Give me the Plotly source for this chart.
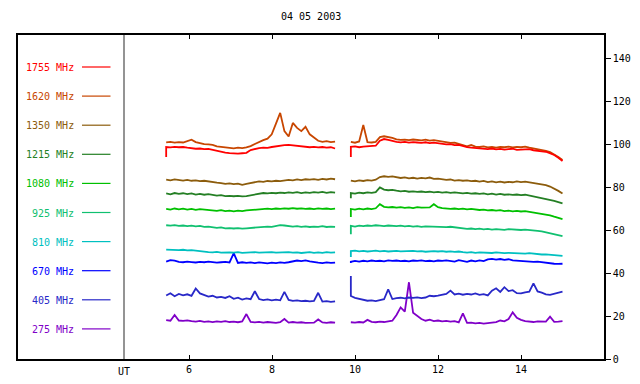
import numpy as np
import plotly.graph_objects as go

# ---------------- data ----------------
freq_labels = ["1755 MHz", "1620 MHz", "1350 MHz", "1215 MHz", "1080 MHz",
               "925 MHz", "810 MHz", "670 MHz", "405 MHz", "275 MHz"]
colors = ["#FF0000", "#C84600", "#8C5C0C", "#247F24", "#00C000",
          "#10C070", "#00C0C0", "#0000FF", "#2828C8", "#8000C8"]

x_ticks = [6, 8, 10, 12, 14]
y_ticks = [0, 20, 40, 60, 80, 100, 120, 140]

# observation times (UT hours); first sample repeated for the start transient
t_a = np.concatenate([[5.45], np.linspace(5.45, 9.52, 41)])
t_b = np.concatenate([[9.9], np.linspace(9.9, 15.0, 52)])

f1755_a = [94.0,
           98.6, 98.4, 98.7, 98.5, 98.6, 98.3,
           98.0, 97.8, 97.9, 97.6, 97.7,
           97.3, 96.6, 96.2, 96.0, 95.8,
           95.6, 95.5, 95.7, 95.9, 97.2,
           97.8, 98.1, 98.3, 98.2, 98.6,
           99.0, 99.3, 99.5, 99.6, 99.4,
           99.3, 98.8, 98.7, 98.5, 98.7,
           98.4, 98.6, 98.3, 98.5, 97.9]
f1755_b = [94.0,
           98.7, 98.9, 98.5, 98.8, 99.0, 98.9, 99.2,
           101.5, 102.3, 101.9, 101.4,
           101.0, 100.8, 101.0, 100.6, 100.9, 100.7, 100.5, 100.8, 100.4, 100.6,
           100.3, 100.1, 99.8, 99.9, 99.5, 99.6, 98.9, 98.5, 98.3, 98.1,
           98.0, 97.8, 97.6, 97.9, 97.5, 97.7, 97.4, 97.6, 97.8, 97.3,
           97.5, 97.4, 97.6, 97.1, 97.0, 96.6, 96.4,
           95.8, 94.9, 93.6, 92.1]

f1620_a = [100.8,
           100.8, 101.0, 100.6, 100.9, 100.7, 101.2,
           102.0, 100.9, 100.4, 99.9, 99.8,
           99.6, 98.9, 98.6, 98.4, 98.2,
           98.0, 98.3, 98.1, 98.4, 99.0,
           100.0, 101.0, 101.8, 102.5, 104.5,
           109.5, 114.5, 106.0, 103.5, 109.8,
           107.5, 106.0, 108.0, 104.5, 102.8,
           101.5, 101.0, 101.3, 100.9, 101.1]
f1620_b = [101.0,
           101.0, 100.6, 101.2, 108.8, 100.9, 100.7, 101.0,
           103.2, 103.6, 103.3, 102.8,
           102.2, 101.9, 102.0, 101.8, 102.1, 101.9, 101.7, 102.0, 101.6, 101.8,
           101.4, 101.1, 100.8, 100.5, 100.6, 100.0, 99.3, 98.9, 99.6, 98.8,
           98.6, 98.9, 98.4, 98.7, 98.3, 98.6, 98.5, 98.8, 98.4, 98.7,
           98.5, 98.8, 98.3, 98.0, 97.6, 97.2, 96.8,
           96.2, 95.2, 94.0, 92.6]

f1350_a = [83.4,
           83.4, 83.1, 83.5, 83.2, 83.0, 83.3,
           82.9, 83.1, 82.7, 82.9, 82.5,
           82.2, 82.0, 81.8, 81.5, 81.7,
           81.3, 81.6, 81.0, 81.4, 81.9,
           82.3, 82.6, 82.4, 82.8, 82.6,
           82.9, 82.7, 83.0, 83.3, 83.1,
           83.5, 83.2, 83.6, 83.4, 83.7,
           83.3, 83.8, 83.5, 83.9, 83.6]
f1350_b = [83.0,
           83.0, 82.6, 83.1, 82.8, 83.2, 83.0, 83.4,
           84.6, 85.0, 84.7, 84.9,
           84.4, 84.2, 84.5, 84.0, 84.3, 83.9, 84.2, 84.0, 84.4, 83.8,
           83.9, 83.6, 83.3, 83.5, 83.0, 83.2, 82.9, 83.1, 82.7, 82.9,
           82.5, 82.8, 82.3, 82.6, 82.2, 82.5, 82.1, 82.4, 82.2, 82.6,
           82.3, 82.5, 82.2, 82.0, 81.6, 81.4, 80.9,
           80.2, 79.3, 78.2, 77.0]

f1215_a = [77.0,
           77.0, 76.6, 77.2, 76.8, 77.1, 76.7,
           77.0, 76.5, 76.8, 76.4, 76.7,
           76.3, 76.0, 76.2, 75.8, 75.9,
           75.7, 75.9, 75.6, 75.8, 76.1,
           76.5, 76.9, 77.2, 77.0, 77.3,
           77.1, 77.4, 77.2, 77.5, 77.3,
           77.6, 77.2, 77.5, 77.3, 77.6,
           77.4, 77.7, 77.3, 77.6, 77.4]
f1215_b = [74.8,
           77.2, 76.9, 77.4, 77.1, 77.5, 77.3, 77.6,
           79.8, 78.8, 78.5, 78.7,
           78.3, 78.0, 78.2, 77.8, 78.0, 77.7, 77.9, 77.6, 77.8, 77.5,
           77.7, 77.4, 77.6, 77.3, 77.5, 77.2, 77.0, 77.3, 76.9, 77.1,
           76.8, 77.0, 76.6, 76.9, 76.5, 76.8, 76.4, 76.6, 76.3, 76.5,
           76.2, 76.4, 76.0, 75.8, 75.2, 74.8, 74.5,
           74.0, 73.5, 73.0, 72.4]

f1080_a = [69.8,
           69.8, 69.5, 70.0, 69.6, 69.9, 69.5,
           69.8, 69.4, 69.7, 69.5, 69.3,
           69.1, 68.9, 69.2, 68.8, 69.0,
           68.7, 69.0, 68.8, 69.1, 69.3,
           69.5, 69.7, 69.6, 69.9, 69.7,
           70.0, 69.8, 70.1, 69.9, 70.2,
           69.9, 70.1, 69.8, 70.0, 69.7,
           70.1, 69.8, 70.0, 69.7, 69.9]
f1080_b = [66.0,
           69.8, 69.5, 69.9, 69.6, 70.0, 69.7, 70.1,
           72.0, 70.8, 70.5, 70.7,
           70.4, 70.6, 70.3, 70.5, 70.2, 70.6, 70.4, 70.3, 70.5, 72.0,
           70.6, 70.2, 70.0, 69.8, 70.0, 69.7, 69.9, 69.6, 69.8, 69.5,
           69.3, 69.5, 69.1, 69.3, 69.0, 69.2, 68.8, 69.0, 68.7, 68.9,
           68.6, 68.8, 68.5, 68.3, 68.0, 67.7, 67.3,
           66.8, 66.2, 65.6, 65.1]

f925_a = [62.2,
          62.2, 62.0, 62.3, 61.9, 62.1, 61.8,
          62.0, 61.7, 61.9, 61.5, 61.6,
          61.3, 61.0, 61.2, 60.8, 60.9,
          60.7, 60.9, 60.6, 60.8, 61.0,
          61.3, 61.5, 61.4, 61.6, 61.5,
          61.8, 62.3, 62.1, 61.8, 61.6,
          61.8, 61.5, 61.7, 61.4, 61.6,
          61.5, 61.8, 61.4, 61.6, 61.5]
f925_b = [58.0,
          61.9, 61.6, 62.0, 61.8, 62.1, 61.9, 62.2,
          62.0, 61.8, 62.1, 61.9,
          61.8, 62.0, 61.7, 61.9, 61.6, 61.8, 61.5, 61.7, 61.6, 61.8,
          61.5, 61.6, 61.3, 61.5, 61.2, 61.0, 60.8, 60.5, 60.7, 60.4,
          60.6, 60.3, 60.5, 60.2, 60.4, 60.3, 60.1, 60.4, 60.2, 60.3,
          60.0, 60.2, 60.1, 59.9, 59.6, 59.4, 59.0,
          58.6, 58.2, 57.7, 57.2]

f810_a = [50.9,
          50.9, 50.7, 50.8, 50.6, 50.8, 50.5,
          50.6, 50.3, 50.1, 49.9, 49.7,
          49.6, 49.8, 49.5, 49.7, 49.6,
          49.5, 49.7, 49.4, 49.6, 49.5,
          49.7, 49.5, 49.6, 49.4, 49.7,
          49.5, 49.6, 49.4, 49.7, 49.5,
          49.6, 49.3, 49.5, 49.7, 49.4,
          49.6, 49.4, 49.7, 49.5, 49.6]
f810_b = [47.4,
          50.2, 50.4, 50.1, 50.3, 50.0, 50.2, 50.4,
          50.1, 50.3, 50.0, 50.2,
          50.3, 50.1, 50.2, 50.0, 50.3, 50.1, 50.2, 49.9, 50.1, 50.2,
          50.0, 50.2, 49.9, 50.1, 49.8, 50.0, 49.7, 49.5, 49.7, 49.4,
          49.6, 49.4, 49.5, 49.3, 49.6, 49.4, 49.2, 49.4, 49.3, 49.1,
          49.3, 49.0, 49.2, 48.9, 48.8, 48.6, 48.7,
          48.5, 48.3, 48.2, 48.0]

f670_a = [45.3,
          45.3, 46.0, 45.8, 45.2, 45.0, 45.3,
          45.1, 44.9, 45.2, 45.0, 45.3,
          45.1, 44.8, 45.0, 45.2, 44.9,
          49.2, 44.7, 45.0, 44.7, 44.9,
          44.6, 44.9, 44.7, 44.5, 44.8,
          44.6, 44.9, 44.7, 45.0, 45.3,
          45.8, 45.5, 45.9, 45.4, 45.0,
          44.8, 44.6, 44.9, 44.7, 44.8]
f670_b = [44.6,
          45.2, 45.6, 45.3, 45.7, 45.4, 45.8, 45.5,
          45.7, 45.4, 45.9, 45.6,
          45.8, 45.5, 45.7, 45.4, 45.8, 45.6, 45.9, 45.5, 45.7, 45.4,
          45.8, 45.6, 45.9, 45.7, 45.3, 46.0, 45.6, 45.2, 45.8, 45.4,
          45.9, 45.5, 46.3, 46.6, 46.2, 46.5, 46.1, 46.4, 45.9, 45.7,
          45.5, 45.3, 45.4, 45.2, 45.3, 45.0, 44.6,
          44.4, 44.3, 44.2, 44.3]

f405_a = [29.5,
          29.5, 30.6, 29.2, 30.3, 29.6, 30.1,
          29.4, 32.8, 30.5, 29.8, 29.0,
          29.4, 28.6, 28.9, 28.4, 29.2,
          28.0, 28.5, 27.6, 28.2, 27.8,
          31.5, 27.9, 27.4, 27.7, 27.3,
          27.6, 27.3, 31.2, 27.5, 27.0,
          27.3, 26.9, 27.1, 26.8, 27.0,
          30.8, 26.7, 26.9, 26.6, 26.8]
f405_b = [38.6,
          29.3, 28.4, 28.0, 27.6, 27.1, 27.3, 26.9,
          27.4, 27.8, 32.4, 27.9,
          28.3, 28.5, 28.2, 28.6, 28.4, 28.7, 28.3, 28.6, 29.4, 29.2,
          29.5, 29.8, 30.3, 31.8, 30.0, 30.4, 29.9, 30.3, 30.0, 30.5,
          29.8, 30.2, 29.6, 31.8, 32.9, 31.2, 33.4, 31.6, 32.0, 30.6,
          30.5, 31.0, 31.3, 35.2, 31.4, 30.9, 30.1,
          29.8, 30.2, 30.8, 31.3]

f275_a = [18.1,
          18.1, 17.8, 20.5, 17.9, 17.7, 18.0,
          17.6, 17.4, 17.7, 17.3, 17.5,
          17.2, 17.5, 17.3, 17.6, 17.2,
          17.4, 17.1, 17.5, 20.9, 17.2,
          17.0, 17.3, 16.9, 17.2, 17.0,
          16.8, 17.1, 18.6, 16.9, 17.2,
          16.9, 17.1, 16.8, 17.0, 16.9,
          18.4, 17.0, 16.8, 17.1, 16.9]
f275_b = [17.1,
          17.1, 16.9, 17.2, 17.0, 18.2, 17.3, 17.1,
          17.4, 17.2, 17.5, 17.8,
          20.5, 24.0, 22.0, 35.7, 21.5, 20.0, 18.6, 17.8, 18.3, 17.6,
          17.9, 17.5, 17.7, 17.4, 17.6, 17.0, 21.2, 16.8, 16.9, 16.6,
          16.8, 16.5, 16.7, 16.9, 17.2, 17.9, 17.5, 18.6, 21.7, 19.2,
          18.2, 17.6, 17.4, 17.2, 17.5, 17.3, 17.4,
          19.7, 17.3, 17.4, 17.6]

series_a = [f1755_a, f1620_a, f1350_a, f1215_a, f1080_a,
            f925_a, f810_a, f670_a, f405_a, f275_a]
series_b = [f1755_b, f1620_b, f1350_b, f1215_b, f1080_b,
            f925_b, f810_b, f670_b, f405_b, f275_b]

for a, b in zip(series_a, series_b):
    assert len(a) == len(t_a), len(a)
    assert len(b) == len(t_b), len(b)

# ---------------- figure ----------------
# the page body adds an 8px offset, so the figure is 8px smaller and all
# window-pixel positions below are shifted by OFF
OFF = 8
W, H = 640 - OFF, 384 - OFF
BOX_L, BOX_R, BOX_T, BOX_B = 18, 604, 35, 359          # window pixels
L, T = BOX_L - OFF, BOX_T - OFF
R, B = W - (BOX_R - OFF), H - (BOX_B - OFF)
pw, ph = W - L - R, H - T - B

FONT = "DejaVu Sans Mono"

fig = go.Figure()
# draw lowest frequencies first so higher ones sit on top
for lab, col, a, b in reversed(list(zip(freq_labels, colors, series_a, series_b))):
    xs = list(t_a) + [None] + list(t_b)
    ys = list(a) + [None] + list(b)
    fig.add_trace(go.Scatter(x=xs, y=ys, mode="lines", name=lab,
                             line=dict(color=col, width=1.8),
                             connectgaps=False, showlegend=False,
                             hoverinfo="skip"))

# x range so that 6 -> px 189 and 14 -> px 521 (window pixels)
px_per_hr = (521 - 189) / 8.0
x0 = 6 - (189 - BOX_L) / px_per_hr
x1 = 14 + (BOX_R - 521) / px_per_hr
y_top = 140 + (58 - BOX_T) / (301 / 140.0)

fig.update_layout(
    width=W, height=H,
    margin=dict(l=L, r=R, t=T, b=B, pad=0, autoexpand=False),
    paper_bgcolor="white", plot_bgcolor="white",
    font=dict(family=FONT, size=10, color="black"),
    showlegend=False,
    xaxis=dict(range=[x0, x1], tickvals=x_ticks, ticktext=[str(v) for v in x_ticks],
               ticks="inside", ticklen=4, tickwidth=1, tickcolor="black",
               showline=True, linecolor="black", linewidth=1.5, mirror="ticks",
               showgrid=False, zeroline=False, automargin=False,
               tickfont=dict(family=FONT, size=10, color="black")),
    yaxis=dict(range=[0, y_top], side="right", tickvals=y_ticks,
               ticks="outside", ticklen=5, tickwidth=1, tickcolor="black",
               showline=True, linecolor="black", linewidth=1.5, mirror=True,
               showgrid=False, zeroline=False, automargin=False,
               tickfont=dict(family=FONT, size=10, color="black")),
)


def py(ypx):
    """window pixel y -> paper y"""
    return (BOX_B - ypx) / ph


def pxp(xpx):
    """window pixel x -> paper x"""
    return (xpx - BOX_L) / pw


# separator line of the legend panel
ut_x = 6 - (189 - 124) / px_per_hr
fig.add_shape(type="line", xref="x", yref="paper", x0=ut_x, x1=ut_x, y0=0, y1=1,
              line=dict(color="#707070", width=1.5))

# legend panel
for k, (lab, col) in enumerate(zip(freq_labels, colors)):
    ypix = 67.5 + 29.1 * k
    fig.add_annotation(xref="paper", yref="paper", x=pxp(76), y=py(ypix),
                       text=lab, showarrow=False, xanchor="right", yanchor="middle",
                       font=dict(family=FONT, size=10, color=col))
    fig.add_shape(type="line", xref="paper", yref="paper",
                  x0=pxp(82), x1=pxp(110.5), y0=py(ypix - 0.5), y1=py(ypix - 0.5),
                  line=dict(color=col, width=1.2))

# title and UT label
fig.add_annotation(xref="paper", yref="paper", x=pxp(310.5), y=py(17),
                   text="04 05 2003", showarrow=False, xanchor="center", yanchor="middle",
                   font=dict(family=FONT, size=10, color="black"))
fig.add_annotation(xref="x", yref="paper", x=ut_x, y=py(371),
                   text="UT", showarrow=False, xanchor="center", yanchor="middle",
                   font=dict(family=FONT, size=10, color="black"))

fig.write_html("out.html")
